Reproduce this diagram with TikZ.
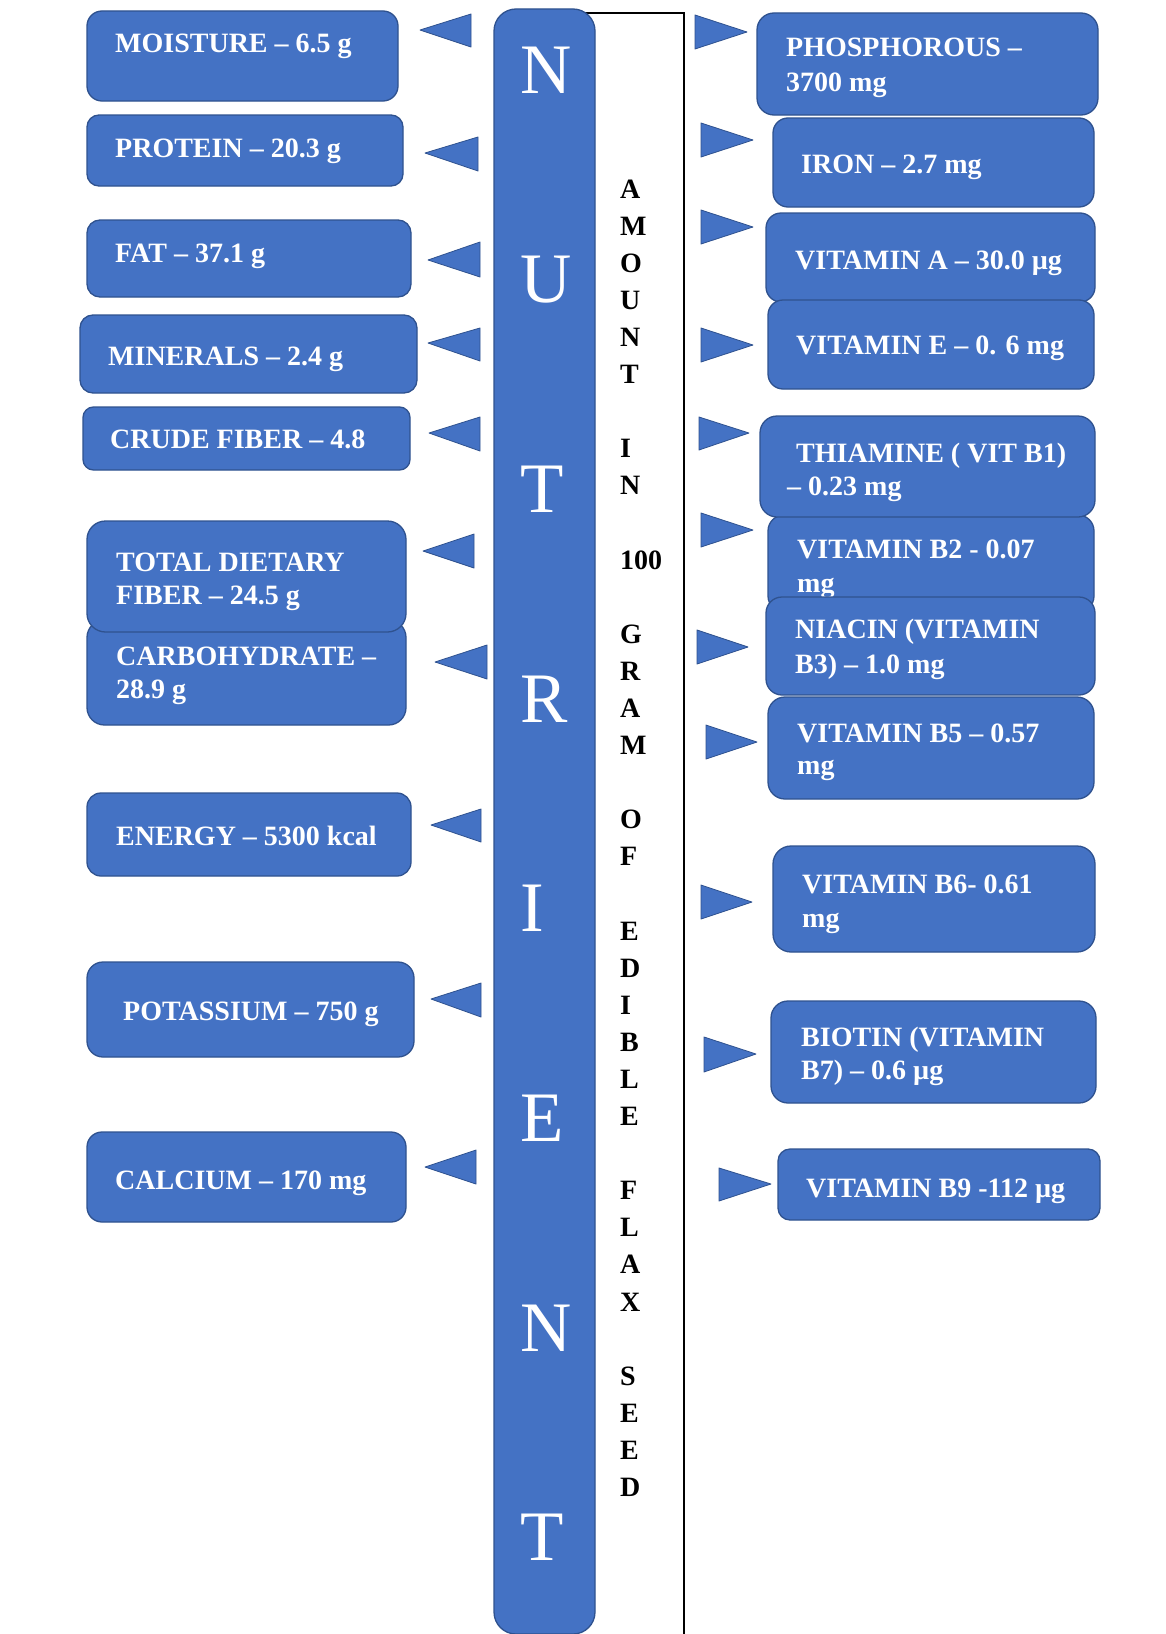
\documentclass[tikz,border=0pt]{standalone}
\usepackage{fontspec}
\setmainfont{Liberation Serif}
\definecolor{boxblue}{RGB}{68,114,196}
\definecolor{boxedge}{RGB}{47,82,143}
\tikzset{
  panel/.style={fill=boxblue, draw=boxedge, line width=1.3bp, inner sep=0pt, outer sep=0pt, anchor=north west},
  tri/.style={fill=boxblue, draw=boxedge, line width=0.8bp, line join=round},
  lbl/.style={text=white, font=\bfseries\fontsize{28bp}{34bp}\selectfont, inner sep=0pt, anchor=base west},
  bigletter/.style={text=white, font=\fontsize{71bp}{80bp}\selectfont, inner sep=0pt, anchor=base west},
  vert/.style={text=black, font=\bfseries\fontsize{28bp}{34bp}\selectfont, inner sep=0pt, anchor=base west},
}
% name, x1, y1, x2, y2, radius
\newcommand\pbox[6]{%
  \node[panel, rounded corners=#6bp, minimum width={(#4-#2)*1bp}, minimum height={(#5-#3)*1bp}] (#1) at (#2,#3) {};}
% left triangle: tip x, tip y, base x, y1, y2
\newcommand\ltri[5]{\draw[tri] (#1,#2) -- (#3,#4) -- (#3,#5) -- cycle;}
% right triangle: base x, y1, y2, tip x, tip y
\newcommand\rtri[5]{\draw[tri] (#1,#2) -- (#4,#5) -- (#1,#3) -- cycle;}
\begin{document}
\begin{tikzpicture}[x=1bp, y=-1bp]
\useasboundingbox (0,0) rectangle (1165,1634);
\fill[white] (0,0) rectangle (1165,1634);

% white column with outline (left side hidden behind the bar)
\coordinate (coltl) at (585,13);
\coordinate (coltr) at (684,13);
\coordinate (colbr) at (684,1640);
\draw[line width=1.3bp] (coltl) -- (coltr) -- (colbr);
% central bar
\node[panel, rounded corners=22bp, minimum width=101bp, minimum height=1625bp] (bar) at (494,9) {};
\foreach \ch/\i in {N/0,U/1,T/2,R/3,I/4,E/5,N/6,T/7}
  \node[bigletter] (big\i) at (520,{93+209.7*\i}) {\ch};

% vertical text
\foreach \ch/\i in {A/0,M/1,O/2,U/3,N/4,T/5,I/7,N/8,100/10,G/12,R/13,A/14,M/15,O/17,F/18,E/20,D/21,I/22,B/23,L/24,E/25,F/27,L/28,A/29,X/30,S/32,E/33,E/34,D/35}
  \node[vert] (v\i) at (620,{198+37.1*\i}) {\ch};

% ---------- left column ----------
\pbox{moist}{87}{11}{398}{101}{15}
\node[lbl] (moistt) at (115,53) {MOISTURE – 6.5 g};
\pbox{prot}{87}{115}{403}{186}{12}
\node[lbl] (prott) at (115,157) {PROTEIN – 20.3 g};
\pbox{fat}{87}{220}{411}{297}{13}
\node[lbl] (fatt) at (115,262) {FAT – 37.1 g};
\pbox{mine}{80}{315}{417}{393}{13}
\node[lbl] (minet) at (108,365) {MINERALS – 2.4 g};
\pbox{crude}{83}{407}{410}{470}{10.5}
\node[lbl] (crudet) at (110,448) {CRUDE FIBER – 4.8};
\pbox{carb}{87}{620}{406}{725}{17.5}
\node[lbl] (carba) at (116,665) {CARBOHYDRATE –};
\node[lbl] (carbb) at (116,698) {28.9 g};
\pbox{tdf}{87}{521}{406}{632}{18.5}
\node[lbl] (tdfa) at (116,571) {TOTAL DIETARY};
\node[lbl] (tdfb) at (116,604) {FIBER – 24.5 g};
\pbox{ener}{87}{793}{411}{876}{14}
\node[lbl] (enert) at (116,845) {ENERGY – 5300 kcal};
\pbox{pota}{87}{962}{414}{1057}{16}
\node[lbl] (potat) at (123,1020) {POTASSIUM – 750 g};
\pbox{calc}{87}{1132}{406}{1222}{15}
\node[lbl] (calct) at (115,1189) {CALCIUM – 170 mg};

\ltri{420}{30}{471}{14}{47}
\ltri{425}{153}{478}{137}{171}
\ltri{428}{260}{480}{242}{277}
\ltri{428}{343}{480}{328}{361}
\ltri{429}{433}{480}{417}{451}
\ltri{423}{551}{474}{534}{568}
\ltri{435}{662}{487}{645}{679}
\ltri{431}{825}{481}{809}{842}
\ltri{431}{999}{481}{983}{1017}
\ltri{425}{1167}{476}{1150}{1184}

% ---------- right column ----------
\pbox{phos}{757}{13}{1098}{115}{17}
\node[lbl] (phosa) at (786,57) {PHOSPHOROUS –};
\node[lbl] (phosb) at (786,91) {3700 mg};
\pbox{iron}{773}{118}{1094}{207}{15}
\node[lbl] (iront) at (801,173) {IRON – 2.7 mg};
\pbox{vita}{766}{213}{1095}{302}{15}
\node[lbl] (vitat) at (795,269) {VITAMIN A – 30.0 µg};
\pbox{vite}{768}{300}{1094}{389}{15}
\node[lbl] (vitet) at (796,354) {VITAMIN E – 0. 6 mg};
\pbox{vbtwo}{768}{515}{1094}{612}{16}
\node[lbl] (vbtwoa) at (797,558) {VITAMIN B2 - 0.07};
\node[lbl] (vbtwob) at (797,592) {mg};
\pbox{thia}{760}{416}{1095}{517}{17}
\node[lbl] (thiaa) at (796,462) {THIAMINE ( VIT B1)};
\node[lbl] (thiab) at (787,495) {– 0.23 mg};
\pbox{niac}{766}{597}{1095}{695}{16}
\node[lbl] (niaca) at (795,638) {NIACIN (VITAMIN};
\node[lbl] (niacb) at (795,673) {B3) – 1.0 mg};
\pbox{vbfive}{768}{697}{1094}{799}{17}
\node[lbl] (vbfivea) at (797,742) {VITAMIN B5 – 0.57};
\node[lbl] (vbfiveb) at (797,774) {mg};
\pbox{vbsix}{773}{846}{1095}{952}{18}
\node[lbl] (vbsixa) at (802,893) {VITAMIN B6- 0.61};
\node[lbl] (vbsixb) at (802,927) {mg};
\pbox{biot}{771}{1001}{1096}{1103}{17}
\node[lbl] (biota) at (801,1046) {BIOTIN (VITAMIN};
\node[lbl] (biotb) at (801,1079) {B7) – 0.6 µg};
\pbox{vbnine}{778}{1149}{1100}{1220}{12}
\node[lbl] (vbninet) at (806,1197) {VITAMIN B9 -112 µg};

\rtri{695}{15}{49}{747}{32}
\rtri{701}{123}{157}{753}{140}
\rtri{701}{210}{244}{753}{227}
\rtri{701}{328}{362}{753}{345}
\rtri{699}{417}{450}{749}{433}
\rtri{701}{513}{547}{753}{530}
\rtri{697}{630}{664}{748}{647}
\rtri{706}{725}{759}{757}{742}
\rtri{701}{885}{919}{752}{902}
\rtri{704}{1037}{1072}{756}{1054}
\rtri{719}{1168}{1201}{771}{1184}
\end{tikzpicture}
\end{document}
